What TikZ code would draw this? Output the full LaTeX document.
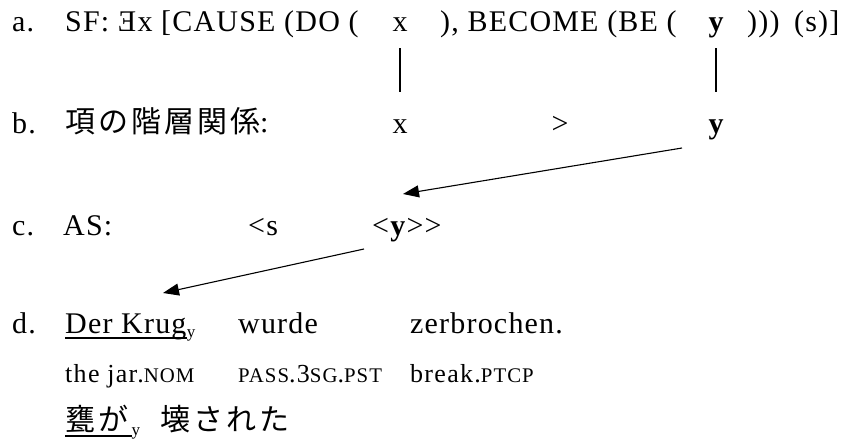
\documentclass[tikz,border=0pt]{standalone}
\usepackage{fontspec}
\usetikzlibrary{arrows.meta}
\newfontfamily\mainf{Liberation Serif}[LetterSpace=4]
\newfontfamily\glossf{Liberation Serif}[LetterSpace=5]
\newfontfamily\plainf{Liberation Serif}
\newfontfamily\jpf{Noto Sans CJK JP}[LetterSpace=10]
\newcommand\smc[1]{{\fontsize{20.8}{20.8}\selectfont #1}}
\begin{document}
\begin{tikzpicture}[x=1pt,y=-1pt,
  txt/.style={anchor=base west, inner sep=0pt, font=\mainf\fontsize{30}{30}\selectfont},
  ctr/.style={anchor=base, inner sep=0pt, font=\mainf\fontsize{30}{30}\selectfont},
  gl/.style={anchor=base west, inner sep=0pt, font=\glossf\fontsize{26}{26}\selectfont},
  jp/.style={anchor=base west, inner sep=0pt, font=\jpf\fontsize{30}{30}\selectfont},
  subsc/.style={anchor=base west, inner sep=0pt, font=\plainf\fontsize{17}{17}\selectfont},
  link/.style={line width=1.1pt},
  arr/.style={line width=1.1pt, -{Triangle[length=16pt,width=12pt]}},
  uline/.style={line width=1.4pt}]
\useasboundingbox (0,0) rectangle (846,439);
% row a
\node[txt] (la) at (12,31) {a.};
\node[txt] (sfa) at (65,31) {SF: Ǝx [CAUSE (DO (};
\node[ctr] (xa) at (400,31) {x};
\node[txt] (sfb) at (440,31) {), BECOME (BE (};
\node[ctr] (ya) at (716,31) {\bfseries y};
\node[txt] (sfp) at (747,31) {)))};
\node[txt] (sfs) at (794,31) {(s)]};
% row b
\node[txt] (lb) at (12,133) {b.};
\node[txt] (hb) at (65,132) {{\jpf 項の階層関係}:};
\node[ctr] (xb) at (400,133) {x};
\node[ctr] (gt) at (560,133) {>};
\node[ctr] (yb) at (716,133) {\bfseries y};
% row c
\node[txt] (lc) at (12,235) {c.};
\node[txt] (asc) at (63,235) {AS:};
\node[txt] (sc) at (248,235) {<s};
\node[txt] (yc) at (372,235) {<\textbf{y}>>};
% row d
\node[txt] (ld) at (12,333) {d.};
\node[txt] (krug) at (65,333) {Der Krug};
\node[subsc] (ky) at ([yshift=-4pt]krug.base east) {y};
\node[txt] (wurde) at (238,333) {wurde};
\node[txt] (zerb) at (410,333) {zerbrochen.};
\node[gl] (g1) at (65,382) {the jar.\smc{NOM}};
\node[gl] (g2) at (238,382) {\smc{PASS}.3\smc{SG}.\smc{PST}};
\node[gl] (g3) at (410,382) {break.\smc{PTCP}};
\node[jp] (kame) at (65,430) {甕が};
\node[subsc] (jy) at ([xshift=3pt,yshift=-5pt]kame.base east) {y};
\node[jp] (kowa) at (160,430) {壊された};
% underlines
\draw[uline] ([yshift=-5pt]krug.base west) -- ([yshift=-5pt]krug.base east);
\draw[uline] ([yshift=-6pt]kame.base west) -- ([yshift=-6pt,xshift=4pt]kame.base east);
% links
\coordinate (xa1) at (400,48); \coordinate (xb1) at (400,92);
\coordinate (ya1) at (716,48); \coordinate (yb1) at (716,92);
\draw[link] (xa1) -- (xb1);
\draw[link] (ya1) -- (yb1);
\coordinate (a1s) at (682,148); \coordinate (a1e) at (403,194);
\coordinate (a2s) at (364,249); \coordinate (a2e) at (163,293);
\draw[arr] (a1s) -- (a1e);
\draw[arr] (a2s) -- (a2e);
\end{tikzpicture}
\end{document}
